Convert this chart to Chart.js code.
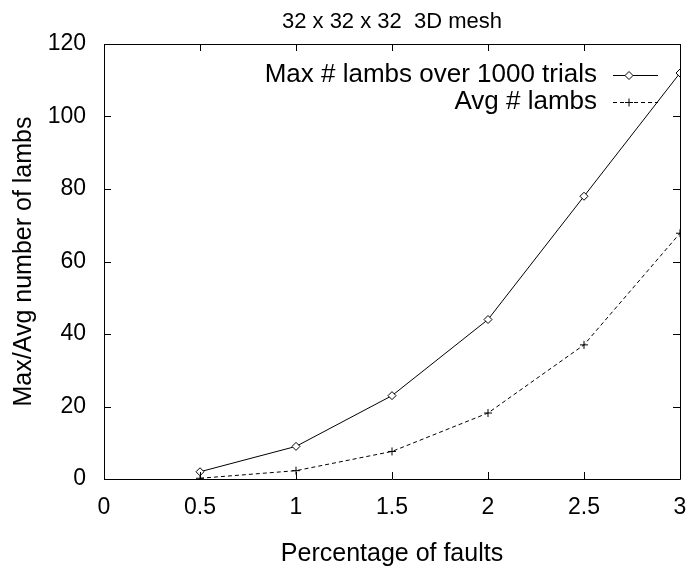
<!DOCTYPE html>
<html>
<head>
<meta charset="utf-8">
<script src="https://cdn.jsdelivr.net/npm/chart.js@4.4.1/dist/chart.umd.min.js"></script>
<style>
  html, body { margin: 0; padding: 0; background: #fff; }
  #wrap { width: 691px; height: 573px; }
</style>
</head>
<body>
<div id="wrap"><canvas id="graph" width="691" height="573"></canvas></div>
<script>
var faults = [0.5, 1, 1.5, 2, 2.5, 3];
var maxLambs = [2, 9, 23, 44, 78, 112];
var avgLambs = [0.2, 2.3, 7.6, 18.2, 37, 67.8];

var xTicks = [0, 0.5, 1, 1.5, 2, 2.5, 3];
var yTicks = [0, 20, 40, 60, 80, 100, 120];

var fontFam = '"Liberation Sans", Arial, Helvetica, sans-serif';
var tickSize = 23;
var labelSize = 25;
var keySize = 26;

function toPoints(xs, ys) {
  return xs.map(function (x, i) { return { x: x, y: ys[i] }; });
}

// gnuplot style box with inward ticks on all four sides
const frameTicks = {
  id: 'frameTicks',
  afterDatasetsDraw(chart) {
    const { ctx, chartArea: a, scales } = chart;
    const len = 7;
    ctx.save();
    ctx.strokeStyle = '#000';
    ctx.lineWidth = 1;
    ctx.beginPath();
    ctx.rect(a.left + 0.5, a.top + 0.5, a.right - a.left, a.bottom - a.top);
    xTicks.forEach(function (v) {
      const px = Math.round(scales.x.getPixelForValue(v)) + 0.5;
      ctx.moveTo(px, a.bottom);
      ctx.lineTo(px, a.bottom - len);
      ctx.moveTo(px, a.top);
      ctx.lineTo(px, a.top + len);
    });
    yTicks.forEach(function (v) {
      const py = Math.round(scales.y.getPixelForValue(v)) + 0.5;
      ctx.moveTo(a.left, py);
      ctx.lineTo(a.left + len, py);
      ctx.moveTo(a.right, py);
      ctx.lineTo(a.right - len, py);
    });
    ctx.stroke();
    ctx.restore();
  }
};

// legend in the top right corner: text right aligned, sample on the right
const keyBox = {
  id: 'keyBox',
  afterDraw(chart) {
    const { ctx } = chart;
    const textRight = 597;
    const lineL = 613, lineR = 658, mark = 629;
    const rows = [75, 102];
    ctx.save();
    ctx.font = keySize + 'px ' + fontFam;
    ctx.textAlign = 'right';
    ctx.textBaseline = 'middle';
    chart.data.datasets.forEach(function (ds, i) {
      const y = rows[i];
      ctx.fillStyle = '#000';
      ctx.fillText(ds.label, textRight, y);
      ctx.strokeStyle = ds.borderColor;
      ctx.lineWidth = 1;
      ctx.setLineDash(ds.borderDash || []);
      ctx.beginPath();
      ctx.moveTo(lineL, y + 0.5);
      ctx.lineTo(lineR, y + 0.5);
      ctx.stroke();
      ctx.setLineDash([]);
      ctx.fillStyle = '#fff';
      Chart.helpers.drawPoint(ctx, {
        pointStyle: ds.pointStyle,
        radius: ds.pointRadius,
        borderWidth: 1
      }, mark, y + 0.5);
    });
    ctx.restore();
  }
};

new Chart(document.getElementById('graph'), {
  type: 'line',
  plugins: [frameTicks, keyBox],
  data: {
    datasets: [
      {
        label: 'Max # lambs over 1000 trials',
        data: toPoints(faults, maxLambs),
        borderColor: '#000',
        backgroundColor: '#fff',
        borderWidth: 1,
        pointStyle: 'rectRot',
        pointRadius: 4,
        pointBorderWidth: 1,
        pointBackgroundColor: '#fff',
        tension: 0
      },
      {
        label: 'Avg # lambs',
        data: toPoints(faults, avgLambs),
        borderColor: '#000',
        backgroundColor: '#000',
        borderWidth: 1,
        borderDash: [4, 3],
        pointStyle: 'cross',
        pointRadius: 4,
        pointBorderWidth: 1,
        tension: 0
      }
    ]
  },
  options: {
    responsive: false,
    animation: false,
    layout: { padding: { left: 0, right: 11, top: 0, bottom: 0 } },
    plugins: {
      legend: { display: false },
      tooltip: { enabled: false },
      title: {
        display: true,
        fullSize: false,
        text: '32 x 32 x 32  3D mesh',
        color: '#000',
        font: { family: fontFam, size: 22, weight: 'normal', lineHeight: 1.2 },
        padding: { top: 9, bottom: 8.6 }
      }
    },
    scales: {
      x: {
        type: 'linear',
        min: 0,
        max: 3,
        afterFit: function (scale) {
          scale.height = 94;
          scale.paddingLeft = 0;
          scale.paddingRight = 0;
        },
        afterBuildTicks: function (scale) {
          scale.ticks = xTicks.map(function (v) { return { value: v }; });
        },
        ticks: {
          color: '#000',
          padding: 15,
          maxRotation: 0,
          font: { family: fontFam, size: tickSize },
          callback: function (v) { return String(v); }
        },
        grid: { display: false, drawTicks: false },
        border: { display: false },
        title: {
          display: true,
          text: 'Percentage of faults',
          color: '#000',
          font: { family: fontFam, size: labelSize, lineHeight: 1.2 },
          padding: { top: 0, bottom: 4 }
        }
      },
      y: {
        type: 'linear',
        min: 0,
        max: 120,
        afterFit: function (scale) {
          scale.width = 104;
          scale.paddingTop = 0;
          scale.paddingBottom = 0;
        },
        afterBuildTicks: function (scale) {
          scale.ticks = yTicks.map(function (v) { return { value: v }; });
        },
        ticks: {
          color: '#000',
          padding: 18,
          font: { family: fontFam, size: tickSize }
        },
        grid: { display: false, drawTicks: false },
        border: { display: false },
        title: {
          display: true,
          text: 'Max/Avg number of lambs',
          color: '#000',
          font: { family: fontFam, size: labelSize, lineHeight: 1.2 },
          padding: { top: 9, bottom: 0 }
        }
      }
    }
  }
});
</script>
</body>
</html>
